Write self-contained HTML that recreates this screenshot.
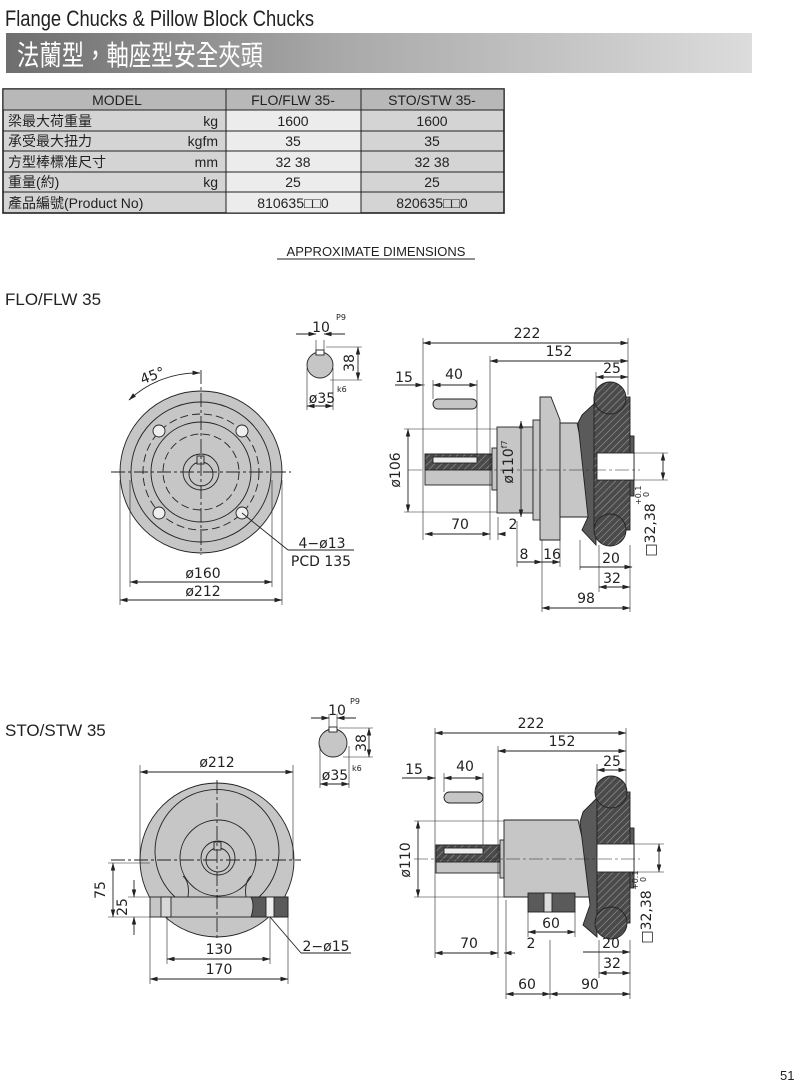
<!DOCTYPE html>
<html><head><meta charset="utf-8"><style>
html,body{margin:0;padding:0;background:#fff;}
svg{display:block;}
.t{font-family:"Liberation Sans","DejaVu Sans",sans-serif;fill:#222;}
.d{font-family:"DejaVu Sans","Liberation Sans",sans-serif;font-size:14px;fill:#222;text-anchor:middle;}
.s{font-family:"DejaVu Sans",sans-serif;font-size:8px;fill:#222;}
.cjk{font-family:"Liberation Sans","Noto Sans CJK TC",sans-serif;}
</style></head><body>
<svg width="800" height="1083" viewBox="0 0 800 1083" xmlns="http://www.w3.org/2000/svg">
<defs>
<linearGradient id="band" x1="0" x2="1" y1="0" y2="0">
<stop offset="0" stop-color="#6e6e6e"/><stop offset="0.45" stop-color="#a9a9a9"/><stop offset="1" stop-color="#dcdcdc"/>
</linearGradient>
<pattern id="h" width="5" height="5" patternUnits="userSpaceOnUse" patternTransform="rotate(45)">
<rect width="5" height="5" fill="#4a4a4a"/><line x1="0" y1="0" x2="0" y2="5" stroke="#9a9a9a" stroke-width="1.2"/>
</pattern>
<marker id="a" markerWidth="8" markerHeight="6" refX="7.5" refY="3" orient="auto-start-reverse" markerUnits="userSpaceOnUse">
<path d="M0,0.8 L8,3 L0,5.2z" fill="#222"/>
</marker>
</defs>

<!-- header -->
<text x="5" y="26" class="t" font-size="22" textLength="309" lengthAdjust="spacingAndGlyphs">Flange Chucks &amp; Pillow Block Chucks</text>
<rect x="6" y="33" width="746" height="40" fill="url(#band)"/>
<text x="17" y="65" class="t cjk" font-size="28" fill="#fff" style="fill:#fff" textLength="246" lengthAdjust="spacingAndGlyphs">法蘭型，軸座型安全夾頭</text>

<!-- table -->
<g stroke="#222" stroke-width="1">
<rect x="3" y="89" width="501" height="124" fill="#d4d4d4" stroke-width="1.6"/>
<rect x="3" y="89" width="501" height="21" fill="#b8b8b8"/>
<rect x="226" y="110" width="135" height="103" fill="#ececec"/>
<line x1="3" y1="131" x2="504" y2="131"/><line x1="3" y1="151" x2="504" y2="151"/>
<line x1="3" y1="172" x2="504" y2="172"/><line x1="3" y1="192" x2="504" y2="192"/>
<line x1="226" y1="89" x2="226" y2="213"/><line x1="361" y1="89" x2="361" y2="213"/>
</g>
<g class="t cjk" font-size="14">
<text x="117" y="105" text-anchor="middle">MODEL</text>
<text x="293" y="105" text-anchor="middle">FLO/FLW 35-</text>
<text x="432" y="105" text-anchor="middle">STO/STW 35-</text>
<text x="8" y="126">梁最大荷重量</text><text x="218" y="126" text-anchor="end">kg</text>
<text x="8" y="146">承受最大扭力</text><text x="218" y="146" text-anchor="end">kgfm</text>
<text x="8" y="167">方型棒標准尺寸</text><text x="218" y="167" text-anchor="end">mm</text>
<text x="8" y="187">重量(約)</text><text x="218" y="187" text-anchor="end">kg</text>
<text x="8" y="208">產品編號(Product No)</text>
<text x="293" y="126" text-anchor="middle">1600</text><text x="432" y="126" text-anchor="middle">1600</text>
<text x="293" y="146" text-anchor="middle">35</text><text x="432" y="146" text-anchor="middle">35</text>
<text x="293" y="167" text-anchor="middle">32 38</text><text x="432" y="167" text-anchor="middle">32  38</text>
<text x="293" y="187" text-anchor="middle">25</text><text x="432" y="187" text-anchor="middle">25</text>
<text x="293" y="208" text-anchor="middle">810635□□0</text><text x="432" y="208" text-anchor="middle">820635□□0</text>
</g>

<text x="376" y="256" class="t" font-size="13" text-anchor="middle">APPROXIMATE DIMENSIONS</text>
<line x1="277" y1="259" x2="475" y2="259" stroke="#222"/>
<text x="5" y="305" class="t" font-size="17">FLO/FLW 35</text>
<text x="5" y="736" class="t" font-size="17">STO/STW 35</text>
<text x="780" y="1080" class="t" font-size="13">51</text>

<!-- ===== Drawing 1 front ===== -->
<g stroke="#222" stroke-width="0.9" fill="none">
<circle cx="201" cy="472" r="81" fill="#c6c6c6"/>
<circle cx="201" cy="472" r="70"/>
<circle cx="201" cy="472" r="58" stroke-dasharray="8,4"/>
<circle cx="201" cy="472" r="50"/>
<circle cx="201" cy="472" r="38" stroke-dasharray="8,4"/>
<circle cx="201" cy="472" r="18"/>
<circle cx="201" cy="474" r="12"/>
<rect x="197" y="456" width="7" height="8" fill="#c6c6c6"/>
<circle cx="159" cy="431" r="6" fill="#eee"/><circle cx="242" cy="431" r="6" fill="#eee"/>
<circle cx="159" cy="513" r="6" fill="#eee"/><circle cx="242" cy="513" r="6" fill="#eee"/>
<line x1="111" y1="472" x2="291" y2="472" stroke-dasharray="14,3,3,3"/>
<line x1="201" y1="370" x2="201" y2="555" stroke-dasharray="14,3,3,3"/>
<line x1="120" y1="480" x2="120" y2="605" stroke-width="0.6"/><line x1="282" y1="480" x2="282" y2="605" stroke-width="0.6"/>
<line x1="130" y1="480" x2="130" y2="587" stroke-width="0.6"/><line x1="272" y1="480" x2="272" y2="587" stroke-width="0.6"/>
<line x1="130" y1="582" x2="272" y2="582" marker-start="url(#a)" marker-end="url(#a)"/>
<line x1="120" y1="600" x2="282" y2="600" marker-start="url(#a)" marker-end="url(#a)"/>
<path d="M129,400 A100,100 0 0 1 200,373" marker-start="url(#a)" marker-end="url(#a)"/>
<line x1="242" y1="513" x2="288" y2="550"/><line x1="288" y1="550" x2="354" y2="550"/>
</g>
<text x="154" y="380" class="d" transform="rotate(-20 154 380)">45°</text>
<text x="203" y="578" class="d">ø160</text>
<text x="203" y="596" class="d">ø212</text>
<text x="322" y="548" class="d">4−ø13</text>
<text x="321" y="566" class="d">PCD 135</text>

<!-- keyway 1 -->
<g stroke="#222" stroke-width="0.9" fill="none">
<circle cx="320" cy="365" r="13" fill="#c6c6c6"/>
<rect x="316" y="350" width="8" height="5" fill="#fff"/>
<line x1="316" y1="340" x2="316" y2="352" stroke-width="0.6"/><line x1="324" y1="340" x2="324" y2="352" stroke-width="0.6"/>
<line x1="296" y1="334" x2="316" y2="334" marker-end="url(#a)"/><line x1="345" y1="334" x2="324" y2="334" marker-end="url(#a)"/>
<line x1="326" y1="347" x2="362" y2="347" stroke-width="0.6"/><line x1="330" y1="380" x2="362" y2="380" stroke-width="0.6"/>
<line x1="358" y1="347" x2="358" y2="380" marker-start="url(#a)" marker-end="url(#a)"/>
<line x1="307" y1="368" x2="307" y2="410" stroke-width="0.6"/><line x1="333" y1="368" x2="333" y2="410" stroke-width="0.6"/>
<line x1="307" y1="406" x2="333" y2="406" marker-start="url(#a)" marker-end="url(#a)"/>
</g>
<text x="321" y="332" class="d">10</text><text x="336" y="320" class="s">P9</text>
<text x="349" y="363" class="d" transform="rotate(-90 349 363)" dy="5">38</text>
<text x="322" y="403" class="d">ø35</text><text x="337" y="392" class="s">k6</text>

<!-- side 1 -->
<g stroke="#222" stroke-width="0.9">
<rect x="425" y="454" width="67" height="31" fill="#c6c6c6"/>
<rect x="425" y="454" width="67" height="16" fill="url(#h)"/>
<rect x="433" y="457" width="44" height="6" fill="#eee"/>
<rect x="433" y="399" width="44" height="10" rx="5" fill="#c6c6c6"/>
<rect x="492" y="448" width="5" height="42" fill="#c6c6c6"/>
<rect x="497" y="427" width="36" height="86" fill="#c6c6c6"/>
<rect x="533" y="420" width="7" height="100" fill="#c6c6c6"/>
<path d="M540,397 L551,397 L560,420 L560,540 L540,540z" fill="#c6c6c6"/>
<path d="M560,423 L577,423 L597,517 L560,517z" fill="#c6c6c6"/>
<path d="M582,415 L596,402 L596,545 L582,530 L588,517 L578,423z" fill="#5a5a5a"/>
<rect x="594" y="397" width="36" height="133" fill="url(#h)"/>
<circle cx="610" cy="398" r="16" fill="url(#h)"/>
<circle cx="610" cy="530" r="16" fill="url(#h)"/>
<rect x="630" y="436" width="4" height="60" fill="#5a5a5a"/>
<rect x="597" y="453" width="37" height="27" fill="#fff"/>
</g>
<g stroke="#222" stroke-width="0.6" fill="none">
<line x1="408" y1="470" x2="640" y2="470" stroke-dasharray="14,3,3,3"/>
<line x1="423" y1="338" x2="423" y2="540"/><line x1="628" y1="338" x2="628" y2="395"/>
<line x1="490" y1="356" x2="490" y2="540"/><line x1="596" y1="372" x2="596" y2="395"/>
<line x1="395" y1="385" x2="425" y2="385"/><line x1="433" y1="380" x2="433" y2="399"/><line x1="477" y1="380" x2="477" y2="454"/>
<line x1="404" y1="429" x2="497" y2="429"/><line x1="404" y1="512" x2="497" y2="512"/>
<line x1="498" y1="517" x2="498" y2="540"/><line x1="517" y1="521" x2="517" y2="567"/>
<line x1="542" y1="540" x2="542" y2="612"/><line x1="560" y1="540" x2="560" y2="567"/>
<line x1="580" y1="540" x2="580" y2="570"/><line x1="599" y1="545" x2="599" y2="592"/>
<line x1="630" y1="545" x2="630" y2="612"/><line x1="634" y1="453" x2="668" y2="453"/><line x1="634" y1="480" x2="668" y2="480"/>
</g>
<g stroke="#222" stroke-width="0.9" fill="none">
<line x1="423" y1="343" x2="628" y2="343" marker-start="url(#a)" marker-end="url(#a)"/>
<line x1="490" y1="361" x2="628" y2="361" marker-start="url(#a)" marker-end="url(#a)"/>
<line x1="596" y1="377" x2="628" y2="377" marker-start="url(#a)" marker-end="url(#a)"/>
<line x1="395" y1="385" x2="423" y2="385" marker-end="url(#a)"/>
<line x1="433" y1="385" x2="477" y2="385" marker-start="url(#a)" marker-end="url(#a)"/>
<line x1="408" y1="429" x2="408" y2="512" marker-start="url(#a)" marker-end="url(#a)"/>
<line x1="521" y1="421" x2="521" y2="517" marker-start="url(#a)" marker-end="url(#a)"/>
<line x1="425" y1="534" x2="490" y2="534" marker-start="url(#a)" marker-end="url(#a)"/>
<line x1="505" y1="534" x2="498" y2="534" marker-end="url(#a)"/>
<line x1="517" y1="562" x2="542" y2="562" marker-end="url(#a)"/>
<line x1="542" y1="562" x2="560" y2="562" marker-end="url(#a)"/>
<line x1="580" y1="567" x2="632" y2="567" marker-end="url(#a)"/>
<line x1="599" y1="587" x2="630" y2="587" marker-start="url(#a)" marker-end="url(#a)"/>
<line x1="542" y1="608" x2="630" y2="608" marker-start="url(#a)" marker-end="url(#a)"/>
<line x1="663" y1="453" x2="663" y2="480" marker-start="url(#a)" marker-end="url(#a)"/>
</g>
<g>
<text x="527" y="338" class="d">222</text><text x="559" y="356" class="d">152</text>
<text x="612" y="373" class="d">25</text><text x="404" y="382" class="d">15</text><text x="454" y="379" class="d">40</text>
<text x="400" y="470" class="d" transform="rotate(-90 400 470)">ø106</text>
<text x="513" y="462" class="d" transform="rotate(-90 513 462)">ø110<tspan font-size="8" dy="-6">f7</tspan></text>
<text x="460" y="529" class="d">70</text><text x="513" y="529" class="d">2</text>
<text x="524" y="559" class="d">8</text><text x="552" y="559" class="d">16</text>
<text x="611" y="563" class="d">20</text><text x="612" y="583" class="d">32</text><text x="586" y="603" class="d">98</text>
<text x="655" y="530" class="d" transform="rotate(-90 655 530)">□32,38</text>
<text x="641" y="505" class="s" transform="rotate(-90 641 505)">+0.1</text>
<text x="649" y="497" class="s" transform="rotate(-90 649 497)">0</text>
</g>

<!-- ===== Drawing 2 front ===== -->
<g stroke="#222" stroke-width="0.9" fill="none">
<circle cx="217" cy="860" r="77" fill="#c6c6c6"/>
<path d="M175,897 A62,62 0 1 1 259,897" />
<path d="M188,897 Q190,882 183,876" /><path d="M246,897 Q244,882 251,876"/>
<circle cx="218" cy="858" r="38"/>
<circle cx="218" cy="858" r="17"/>
<circle cx="218" cy="860" r="12"/>
<rect x="214" y="842" width="7" height="8" fill="#c6c6c6"/>
<rect x="150" y="897" width="138" height="20" fill="#c6c6c6"/>
<path d="M251,897 L288,897 L288,917 L251,917 Q255,905 251,897z" fill="#5a5a5a"/>
<rect x="161" y="897" width="10" height="20" fill="#d8d8d8"/>
<rect x="266" y="897" width="8" height="20" fill="#eee"/>
<line x1="111" y1="860" x2="301" y2="860" stroke-dasharray="14,3,3,3"/>
<line x1="217" y1="780" x2="217" y2="940" stroke-dasharray="14,3,3,3"/>
<line x1="140" y1="765" x2="140" y2="860" stroke-width="0.6"/><line x1="293" y1="765" x2="293" y2="860" stroke-width="0.6"/>
<line x1="140" y1="772" x2="293" y2="772" marker-start="url(#a)" marker-end="url(#a)"/>
<line x1="167" y1="917" x2="167" y2="964" stroke-width="0.6"/><line x1="270" y1="917" x2="270" y2="964" stroke-width="0.6"/>
<line x1="150" y1="917" x2="150" y2="984" stroke-width="0.6"/><line x1="288" y1="917" x2="288" y2="984" stroke-width="0.6"/>
<line x1="167" y1="959" x2="270" y2="959" marker-start="url(#a)" marker-end="url(#a)"/>
<line x1="150" y1="979" x2="288" y2="979" marker-start="url(#a)" marker-end="url(#a)"/>
<line x1="108" y1="863" x2="150" y2="863" stroke-width="0.6"/><line x1="108" y1="917" x2="150" y2="917" stroke-width="0.6"/>
<line x1="128" y1="897" x2="150" y2="897" stroke-width="0.6"/>
<line x1="113" y1="863" x2="113" y2="917" marker-start="url(#a)" marker-end="url(#a)"/>
<line x1="134" y1="880" x2="134" y2="897" marker-end="url(#a)"/><line x1="134" y1="935" x2="134" y2="917" marker-end="url(#a)"/>
<line x1="270" y1="917" x2="301" y2="953"/><line x1="301" y1="953" x2="351" y2="953"/>
</g>
<text x="217" y="767" class="d">ø212</text>
<text x="219" y="954" class="d">130</text><text x="219" y="974" class="d">170</text>
<text x="105" y="890" class="d" transform="rotate(-90 105 890)">75</text>
<text x="127" y="907" class="d" transform="rotate(-90 127 907)">25</text>
<text x="326" y="951" class="d">2−ø15</text>

<!-- keyway 2 -->
<g stroke="#222" stroke-width="0.9" fill="none">
<circle cx="333" cy="743" r="14" fill="#c6c6c6"/>
<rect x="329" y="727" width="8" height="5" fill="#fff"/>
<line x1="329" y1="714" x2="329" y2="729" stroke-width="0.6"/><line x1="337" y1="714" x2="337" y2="729" stroke-width="0.6"/>
<line x1="311" y1="718" x2="329" y2="718" marker-end="url(#a)"/><line x1="356" y1="718" x2="337" y2="718" marker-end="url(#a)"/>
<line x1="339" y1="728" x2="373" y2="728" stroke-width="0.6"/><line x1="343" y1="757" x2="373" y2="757" stroke-width="0.6"/>
<line x1="369" y1="728" x2="369" y2="757" marker-start="url(#a)" marker-end="url(#a)"/>
<line x1="320" y1="746" x2="320" y2="788" stroke-width="0.6"/><line x1="349" y1="746" x2="349" y2="788" stroke-width="0.6"/>
<line x1="320" y1="784" x2="349" y2="784" marker-start="url(#a)" marker-end="url(#a)"/>
</g>
<text x="337" y="715" class="d">10</text><text x="350" y="704" class="s">P9</text>
<text x="361" y="743" class="d" transform="rotate(-90 361 743)" dy="5">38</text>
<text x="335" y="780" class="d">ø35</text><text x="352" y="771" class="s">k6</text>

<!-- side 2 -->
<g stroke="#222" stroke-width="0.9">
<rect x="436" y="845" width="64" height="28" fill="#c6c6c6"/>
<rect x="436" y="845" width="64" height="17" fill="url(#h)"/>
<rect x="444" y="848" width="39" height="6" fill="#eee"/>
<rect x="444" y="792" width="39" height="11" rx="5.5" fill="#c6c6c6"/>
<rect x="500" y="840" width="4" height="38" fill="#c6c6c6"/>
<path d="M504,820 L578,820 L596,897 L504,897z" fill="#c6c6c6"/>
<rect x="528" y="893" width="47" height="19" fill="#5a5a5a"/>
<rect x="544" y="893" width="8" height="19" fill="#ddd"/>
<path d="M583,812 L597,798 L597,937 L583,925 L590,905 L580,822z" fill="#5a5a5a"/>
<rect x="597" y="792" width="33" height="131" fill="url(#h)"/>
<circle cx="611" cy="792" r="16" fill="url(#h)"/>
<circle cx="611" cy="923" r="16" fill="url(#h)"/>
<rect x="630" y="828" width="4" height="60" fill="#5a5a5a"/>
<rect x="597" y="844" width="37" height="28" fill="#fff"/>
</g>
<g stroke="#222" stroke-width="0.6" fill="none">
<line x1="414" y1="859" x2="640" y2="859" stroke-dasharray="14,3,3,3"/>
<line x1="435" y1="728" x2="435" y2="958"/><line x1="626" y1="728" x2="626" y2="790"/>
<line x1="498" y1="746" x2="498" y2="958"/><line x1="597" y1="764" x2="597" y2="790"/>
<line x1="402" y1="778" x2="436" y2="778"/><line x1="444" y1="773" x2="444" y2="792"/><line x1="483" y1="773" x2="483" y2="845"/>
<line x1="414" y1="821" x2="504" y2="821"/><line x1="414" y1="897" x2="504" y2="897"/>
<line x1="528" y1="912" x2="528" y2="937"/><line x1="575" y1="912" x2="575" y2="937"/>
<line x1="506" y1="900" x2="506" y2="999"/><line x1="550" y1="940" x2="550" y2="999"/>
<line x1="599" y1="940" x2="599" y2="978"/><line x1="630" y1="940" x2="630" y2="999"/>
<line x1="634" y1="844" x2="664" y2="844"/><line x1="634" y1="872" x2="664" y2="872"/>
</g>
<g stroke="#222" stroke-width="0.9" fill="none">
<line x1="435" y1="733" x2="626" y2="733" marker-start="url(#a)" marker-end="url(#a)"/>
<line x1="498" y1="751" x2="626" y2="751" marker-start="url(#a)" marker-end="url(#a)"/>
<line x1="597" y1="770" x2="626" y2="770" marker-start="url(#a)" marker-end="url(#a)"/>
<line x1="402" y1="778" x2="435" y2="778" marker-end="url(#a)"/>
<line x1="444" y1="778" x2="483" y2="778" marker-start="url(#a)" marker-end="url(#a)"/>
<line x1="418" y1="821" x2="418" y2="897" marker-start="url(#a)" marker-end="url(#a)"/>
<line x1="435" y1="953" x2="498" y2="953" marker-start="url(#a)" marker-end="url(#a)"/>
<line x1="515" y1="953" x2="504" y2="953" marker-end="url(#a)"/>
<line x1="528" y1="932" x2="575" y2="932" marker-start="url(#a)" marker-end="url(#a)"/>
<line x1="583" y1="952" x2="630" y2="952" marker-end="url(#a)"/>
<line x1="599" y1="973" x2="630" y2="973" marker-start="url(#a)" marker-end="url(#a)"/>
<line x1="506" y1="994" x2="550" y2="994" marker-start="url(#a)" marker-end="url(#a)"/>
<line x1="550" y1="994" x2="630" y2="994" marker-start="url(#a)" marker-end="url(#a)"/>
<line x1="659" y1="844" x2="659" y2="872" marker-start="url(#a)" marker-end="url(#a)"/>
</g>
<g>
<text x="531" y="728" class="d">222</text><text x="562" y="746" class="d">152</text>
<text x="612" y="766" class="d">25</text><text x="414" y="774" class="d">15</text><text x="465" y="771" class="d">40</text>
<text x="410" y="860" class="d" transform="rotate(-90 410 860)">ø110</text>
<text x="469" y="948" class="d">70</text><text x="531" y="948" class="d">2</text>
<text x="551" y="928" class="d">60</text>
<text x="611" y="948" class="d">20</text><text x="612" y="968" class="d">32</text>
<text x="527" y="989" class="d">60</text><text x="590" y="989" class="d">90</text>
<text x="651" y="917" class="d" transform="rotate(-90 651 917)">□32,38</text>
<text x="638" y="890" class="s" transform="rotate(-90 638 890)">+0.1</text>
<text x="646" y="882" class="s" transform="rotate(-90 646 882)">0</text>
</g>
</svg>
</body></html>
